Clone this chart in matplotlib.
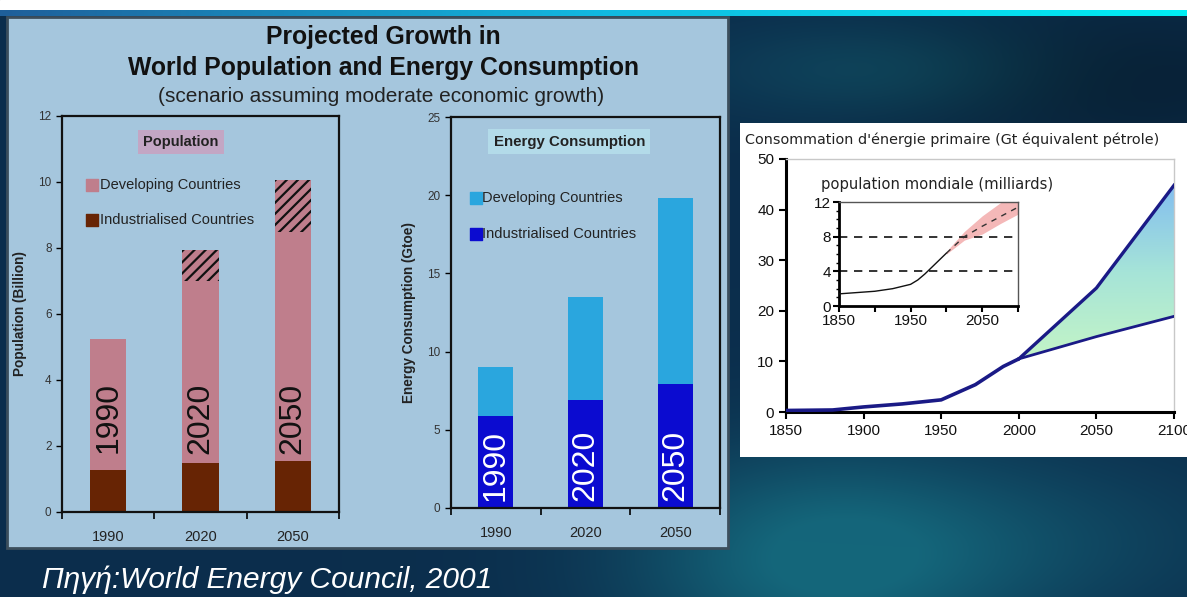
import numpy as np
import matplotlib
matplotlib.use("Agg")
import matplotlib.pyplot as plt
from matplotlib.patches import Rectangle, Polygon
from matplotlib.colors import LinearSegmentedColormap

# ---------------- data ----------------
bar_years = ["1990", "2020", "2050"]
pop_industrialised = [1.27, 1.48, 1.55]
pop_developing = [3.98, 5.52, 6.95]
pop_uncertainty = [0.0, 0.95, 1.55]
energy_industrialised = [5.9, 6.9, 7.9]
energy_developing = [3.1, 6.6, 11.9]

hist_years = [1850, 1880, 1900, 1925, 1950, 1972, 1990, 2000]
hist_energy = [0.3, 0.4, 1.0, 1.6, 2.4, 5.4, 9.0, 10.5]
scen_years = [2000, 2050, 2100]
energy_high = [10.5, 24.5, 44.8]
energy_low = [10.5, 14.9, 18.9]

wpop_years = [1850, 1900, 1925, 1950, 1960, 1970, 1980, 1990, 2000]
wpop_values = [1.4, 1.7, 2.0, 2.5, 3.0, 3.7, 4.5, 5.3, 6.1]
wproj_years = [2000, 2025, 2050, 2075, 2100]
wproj_values = [6.1, 8.0, 9.2, 10.3, 11.4]
wproj_low = [6.0, 7.6, 8.3, 9.5, 10.6]
wproj_high = [6.3, 8.6, 10.4, 11.9, 13.0]

W, H = 1187, 597
fig = plt.figure(figsize=(W / 100, H / 100), dpi=100)


def box(x0, y0, x1, y1):
    return [x0 / W, 1 - y1 / H, (x1 - x0) / W, (y1 - y0) / H]


# ---------------- slide background ----------------
bg = fig.add_axes([0, 0, 1, 1])
bg.set_xlim(0, W)
bg.set_ylim(H, 0)
bg.axis("off")
yy, xx = np.mgrid[0:H, 0:W]
base = np.array([0.045, 0.18, 0.30])
teal = np.array([0.08, 0.40, 0.48])
blob = np.exp(-(((xx - 820) / 190.0) ** 2 + ((yy - 560) / 110.0) ** 2))
blob2 = 0.45 * np.exp(-(((xx - 880) / 170.0) ** 2 + ((yy - 70) / 50.0) ** 2))
blob3 = 0.35 * np.exp(-(((xx - 1050) / 220.0) ** 2 + ((yy - 540) / 90.0) ** 2))
dark = np.exp(-(((xx - 1100) / 250.0) ** 2 + ((yy - 80) / 80.0) ** 2))
img = base[None, None, :] * (1 - 0.3 * dark[..., None]) \
    + (teal - base)[None, None, :] * np.clip(blob + blob2 + blob3, 0, 1)[..., None]
bg.imshow(np.clip(img, 0, 1), extent=[0, W, H, 0], aspect="auto", zorder=0)
bg.add_patch(Rectangle((0, 0), W, 10, color="white", zorder=1))
strip = np.linspace(0, 1, 400)[None, :]
strip_cmap = LinearSegmentedColormap.from_list("strip", ["#1f5f9a", "#12b8e0", "#00eef5"])
bg.imshow(strip, extent=[0, W, 16, 10], aspect="auto", cmap=strip_cmap, zorder=1)

# left panel
panel_col = "#a5c6dd"
bg.add_patch(Rectangle((7, 17), 721, 531, facecolor=panel_col, edgecolor="#3c4e5c", linewidth=2.0, zorder=2))
# right panel
bg.add_patch(Rectangle((740, 123), 460, 334, facecolor="white", edgecolor="none", zorder=2))

# headings on the left panel
fig.text(383 / W, 1 - 37 / H, "Projected Growth in", ha="center", va="center",
         fontsize=17.8, fontweight="bold", family="Liberation Sans", color="#111111")
fig.text(383 / W, 1 - 68 / H, "World Population and Energy Consumption", ha="center", va="center",
         fontsize=17.8, fontweight="bold", family="Liberation Sans", color="#111111")
fig.text(381 / W, 1 - 96 / H, "(scenario assuming moderate economic growth)", ha="center", va="center",
         fontsize=15, family="Liberation Sans", color="#222222")

# source line
fig.text(42 / W, 1 - 580 / H, "Πηγή:World Energy Council, 2001", ha="left", va="center",
         fontsize=21.5, style="italic", family="Liberation Sans", color="white")

pink = "#bf7e8c"
brown = "#672404"
cyan = "#2aa6de"
navy = "#0b0bd0"
x = np.arange(len(bar_years))
width = 0.39


def style_bar_axes(ax, ylim, ystep):
    ax.set_facecolor(panel_col)
    ax.set_xlim(-0.5, 2.5)
    ax.set_ylim(0, ylim)
    ax.set_yticks(np.arange(0, ylim + 0.01, ystep))
    ax.set_xticks([-0.5, 0.5, 1.5, 2.5])
    ax.set_xticklabels([])
    ax.set_xticks(x, minor=True)
    ax.set_xticklabels(bar_years, minor=True)
    ax.tick_params(axis="x", which="major", length=5, width=1.2, direction="out")
    ax.tick_params(axis="x", which="minor", length=0, pad=13, labelsize=10.5, labelcolor="#222222")
    ax.tick_params(axis="y", length=4, width=1, labelsize=8.5, labelcolor="#333333")
    for s in ax.spines.values():
        s.set_linewidth(1.6)
        s.set_color("#111111")
    for t in ax.get_xticklabels(minor=True) + ax.get_yticklabels():
        t.set_family("Liberation Sans")


# ---------------- population bars ----------------
ax1 = fig.add_axes(box(62, 116, 339, 512))
style_bar_axes(ax1, 12, 2)
ax1.bar(x, pop_industrialised, width, color=brown, zorder=2)
ax1.bar(x, pop_developing, width, bottom=pop_industrialised, color=pink, zorder=2)
plt.rcParams["hatch.linewidth"] = 1.6
top_dev = np.array(pop_industrialised) + np.array(pop_developing)
for i, u in enumerate(pop_uncertainty):
    if u > 0:
        ax1.bar(x[i], u, width, bottom=top_dev[i], facecolor=pink, edgecolor="#111111",
                hatch="///", linewidth=0, zorder=2)
for i, yr in enumerate(bar_years):
    ax1.text(x[i], 2.85, yr, rotation=90, ha="center", va="center", fontsize=23,
             family="Liberation Sans", color="#111111", zorder=3)
ax1.set_ylabel("Population (Billion)", fontsize=9.8, fontweight="bold", family="Liberation Sans",
               color="#222222", labelpad=8)
ax1.text(0.43, 0.935, "Population", transform=ax1.transAxes, ha="center", va="center",
         fontsize=10.5, fontweight="bold", family="Liberation Sans", color="#222222",
         bbox=dict(boxstyle="square,pad=0.35", facecolor="#c3a6c4", edgecolor="none"))
ax1.scatter([-0.17], [9.9], marker="s", s=80, color=pink, zorder=3)
ax1.text(-0.09, 9.9, "Developing Countries", va="center", fontsize=10.5, family="Liberation Sans", color="#222222")
ax1.scatter([-0.17], [8.85], marker="s", s=80, color=brown, zorder=3)
ax1.text(-0.09, 8.85, "Industrialised Countries", va="center", fontsize=10.5, family="Liberation Sans", color="#222222")

# ---------------- energy bars ----------------
ax2 = fig.add_axes(box(451, 117, 720, 508))
style_bar_axes(ax2, 25, 5)
ax2.bar(x, energy_industrialised, width, color=navy, zorder=2)
ax2.bar(x, energy_developing, width, bottom=energy_industrialised, color=cyan, zorder=2)
for i, yr in enumerate(bar_years):
    ax2.text(x[i], 2.74, yr, rotation=90, ha="center", va="center", fontsize=23,
             family="Liberation Sans", color="white", zorder=3)
ax2.set_ylabel("Energy Consumption (Gtoe)", fontsize=9.8, fontweight="bold", family="Liberation Sans",
               color="#222222", labelpad=8)
ax2.text(0.44, 0.937, "Energy Consumption", transform=ax2.transAxes, ha="center", va="center",
         fontsize=10.8, fontweight="bold", family="Liberation Sans", color="#222222",
         bbox=dict(boxstyle="square,pad=0.35", facecolor="#b3dbe9", edgecolor="none"))
ax2.scatter([-0.225], [19.85], marker="s", s=80, color=cyan, zorder=3)
ax2.text(-0.15, 19.85, "Developing Countries", va="center", fontsize=10.5, family="Liberation Sans", color="#222222")
ax2.scatter([-0.225], [17.55], marker="s", s=80, color=navy, zorder=3)
ax2.text(-0.15, 17.55, "Industrialised Countries", va="center", fontsize=10.5, family="Liberation Sans", color="#222222")

# ---------------- primary energy consumption (right panel) ----------------
ax3 = fig.add_axes(box(786, 159, 1174, 412))
ax3.set_facecolor("white")
ax3.set_xlim(1850, 2100)
ax3.set_ylim(0, 50)
ax3.set_xticks(np.arange(1850, 2101, 50))
ax3.set_yticks(np.arange(0, 51, 10))
ax3.tick_params(axis="both", length=5, width=1.5, labelsize=11, labelcolor="#111111")
ax3.spines["left"].set_linewidth(2.2)
ax3.spines["bottom"].set_linewidth(2.2)
for s in ("top", "right"):
    ax3.spines[s].set_color("#c8c8c8")
    ax3.spines[s].set_linewidth(1.0)
for t in ax3.get_xticklabels() + ax3.get_yticklabels():
    t.set_family("Liberation Sans")
    t.set_clip_on(False)

# gradient fill between the two scenarios
poly_pts = list(zip(scen_years, energy_high)) + list(zip(scen_years[::-1], energy_low[::-1]))
clip_poly = Polygon(poly_pts, closed=True, transform=ax3.transData, facecolor="none", edgecolor="none")
ax3.add_patch(clip_poly)
grad_cmap = LinearSegmentedColormap.from_list("grad", ["#c4f5c6", "#a6e4d8", "#82bdf0"])
grad = np.linspace(0, 1, 256)[:, None]
gim = ax3.imshow(grad, extent=[2000, 2100, 10, 45], origin="lower", aspect="auto", cmap=grad_cmap, zorder=1)
gim.set_clip_path(clip_poly)

line_col = "#1a1a86"
ax3.plot(hist_years, hist_energy, color=line_col, lw=2.6, zorder=3, solid_capstyle="round")
ax3.plot(scen_years, energy_high, color=line_col, lw=2.4, zorder=3)
ax3.plot(scen_years, energy_low, color=line_col, lw=2.0, zorder=3)
fig.text(745 / W, 1 - 140 / H, "Consommation d'énergie primaire (Gt équivalent pétrole)",
         ha="left", va="center", fontsize=10.4, family="DejaVu Sans", color="#222222")

# inset: world population
ax4 = fig.add_axes(box(839, 202, 1018, 306))
ax4.set_facecolor("white")
ax4.set_xlim(1850, 2100)
ax4.set_ylim(0, 12)
ax4.set_xticks(np.arange(1850, 2101, 50))
ax4.set_xticklabels(["1850", "", "1950", "", "2050", ""])
ax4.set_yticks([0, 4, 8, 12])
ax4.set_yticks(np.arange(0, 13, 1), minor=True)
ax4.tick_params(axis="both", length=4, width=1.5, labelsize=11, labelcolor="#111111", pad=2)
ax4.tick_params(axis="y", which="minor", length=2, width=1)
for t in ax4.get_xticklabels() + ax4.get_yticklabels():
    t.set_family("Liberation Sans")
ax4.spines["left"].set_linewidth(2.0)
ax4.spines["bottom"].set_linewidth(2.0)
for s in ("top", "right"):
    ax4.spines[s].set_linewidth(1.0)
    ax4.spines[s].set_color("#555555")
for yv in (4, 8):
    ax4.axhline(yv, color="#111111", lw=1.2, ls=(0, (5, 4)), zorder=2)
ax4.fill_between(wproj_years, wproj_low, wproj_high, color="#f4b8b8", lw=0, zorder=1)
ax4.plot(wpop_years, wpop_values, color="#111111", lw=1.0, zorder=3)
ax4.plot(wproj_years, wproj_values, color="#333333", lw=1.0, ls=(0, (4, 4)), zorder=3)
fig.text(821 / W, 1 - 185 / H, "population mondiale (milliards)", ha="left", va="center",
         fontsize=10.6, family="DejaVu Sans", color="#222222")

fig.savefig("out.png", dpi=100)
